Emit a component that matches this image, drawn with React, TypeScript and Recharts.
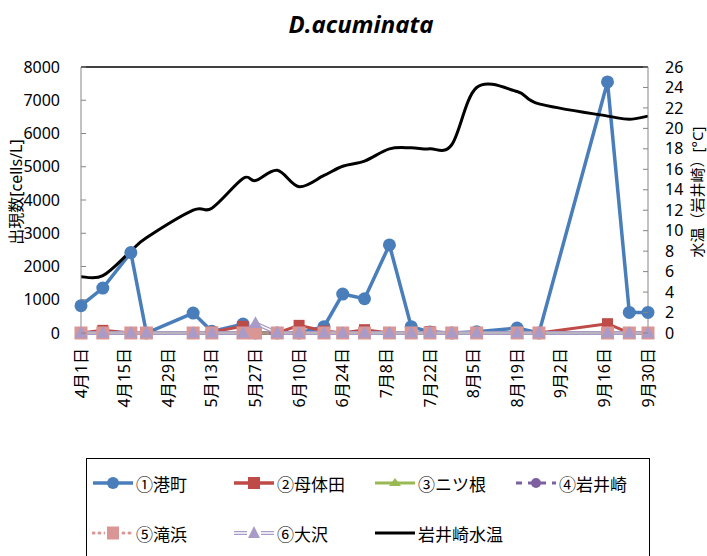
import React from 'react';
import { LineChart, Line, XAxis, YAxis, ReferenceLine } from 'recharts';

// sampling dates (month/day)
const dates = [
  '4/1', '4/8', '4/17', '4/22', '5/7', '5/13', '5/23', '5/27', '6/3', '6/10', '6/18', '6/24',
  '7/1', '7/9', '7/16', '7/22', '7/29', '8/6', '8/19', '8/26', '9/17', '9/24', '9/30'
];

// cells/L
const minato = [820, 1350, 2420, 0, 600, 50, 270, 0, 0, 0, 190, 1170, 1030, 2650, 190, 30, 0, 40, 150, 0, 7550, 620, 620];
const botaida = [0, 80, 0, 0, 0, 30, 200, 0, 0, 230, 60, 0, 100, 0, 0, 40, 0, 0, 0, 0, 280, 0, 0];
const futatsune = [0, 0, 0, 0, 0, 0, 0, 0, 0, 0, 0, 0, 0, 0, 0, 0, 0, 0, 0, 0, 0, 0, 0];
const iwaisaki = [0, 0, 0, 0, 0, 0, 0, 0, 0, 0, 0, 0, 0, 0, 0, 0, 0, 0, 0, 0, 0, 0, 0];
const takihama = [0, 0, 0, 0, 0, 0, 0, 0, 0, 0, 0, 0, 0, 0, 0, 0, 0, 0, 0, 0, 0, 0, 0];
const osawa = [0, 0, 0, 0, 0, 0, 0, 290, 0, 0, 0, 0, 0, 0, 0, 0, 0, 0, 0, 0, 0, 0, 0];

// water temperature at Iwaisaki [°C]
const temp = [5.5, 5.6, 8.0, 9.3, 12.0, 12.2, 15.1, 14.9, 15.9, 14.3, 15.4, 16.3, 16.8, 18.0, 18.1, 18.0, 18.4, 24.0, 23.6, 22.4, 21.2, 20.9, 21.2];

const dateTicks = ['4/1', '4/15', '4/29', '5/13', '5/27', '6/10', '6/24', '7/8', '7/22', '8/5', '8/19', '9/2', '9/16', '9/30'];
const leftTicks = [0, 1000, 2000, 3000, 4000, 5000, 6000, 7000, 8000];
const rightTicks = [0, 2, 4, 6, 8, 10, 12, 14, 16, 18, 20, 22, 24, 26];

const monthStart: Record<number, number> = { 4: 0, 5: 30, 6: 61, 7: 91, 8: 122, 9: 153 };
const toDay = (d: string) => {
  const [m, dd] = d.split('/').map(Number);
  return monthStart[m] + dd - 1;
};
const dayLabel = (day: number) => {
  const dt = new Date(2021, 3, 1 + day);
  return `${dt.getMonth() + 1}月${dt.getDate()}日`;
};

const data = dates.map((d, i) => ({
  day: toDay(d),
  minato: minato[i],
  botaida: botaida[i],
  futatsune: futatsune[i],
  iwaisaki: iwaisaki[i],
  takihama: takihama[i],
  osawa: osawa[i],
  temp: temp[i],
}));

const FONT = "'Noto Sans', 'Noto Sans CJK JP', sans-serif";
const AXIS = '#868686';

const C1 = '#4A7EBB';
const C2 = '#BE4B48';
const C3 = '#98B954';
const C4 = '#7D60A0';
const C5 = '#D99694';
const C6 = '#A99BC8';

// Excel-like smoothed line (Catmull-Rom as cubic Bezier)
const excelCurve = (context: any) => {
  let pts: number[][] = [];
  return {
    areaStart() {},
    areaEnd() {},
    lineStart() {
      pts = [];
    },
    point(x: number, y: number) {
      pts.push([+x, +y]);
    },
    lineEnd() {
      if (!pts.length) return;
      context.moveTo(pts[0][0], pts[0][1]);
      for (let i = 0; i < pts.length - 1; i++) {
        const p0 = pts[i - 1] || pts[i];
        const p1 = pts[i];
        const p2 = pts[i + 1];
        const p3 = pts[i + 2] || p2;
        context.bezierCurveTo(
          p1[0] + (p2[0] - p0[0]) / 6, p1[1] + (p2[1] - p0[1]) / 6,
          p2[0] - (p3[0] - p1[0]) / 6, p2[1] - (p3[1] - p1[1]) / 6,
          p2[0], p2[1]
        );
      }
    },
  };
};

const square = (size: number, fill: string) => (props: any) => {
  const { cx, cy, index } = props;
  if (cx == null || cy == null) return <g key={index} />;
  return <rect key={index} x={cx - size / 2} y={cy - size / 2} width={size} height={size} fill={fill} />;
};

const triangle = (size: number, fill: string) => (props: any) => {
  const { cx, cy, index } = props;
  if (cx == null || cy == null) return <g key={index} />;
  const h = size * 0.9;
  return (
    <path
      key={index}
      d={`M${cx},${cy - h * 0.6} L${cx + size / 2},${cy + h * 0.4} L${cx - size / 2},${cy + h * 0.4} Z`}
      fill={fill}
    />
  );
};

const LeftTick = (props: any) => {
  const { x, y, payload } = props;
  return (
    <g>
      <line x1={x} x2={x + 5} y1={y} y2={y} stroke={AXIS} />
      <text x={x - 21} y={y} dy="0.35em" textAnchor="end" fontSize={16} fontFamily={FONT} fill="#000">
        {payload.value}
      </text>
    </g>
  );
};

const RightTick = (props: any) => {
  const { x, y, payload } = props;
  return (
    <g>
      <line x1={x - 5} x2={x} y1={y} y2={y} stroke={AXIS} />
      <text x={x + 17} y={y} dy="0.35em" textAnchor="start" fontSize={16} fontFamily={FONT} fill="#000">
        {payload.value}
      </text>
    </g>
  );
};

const DateTick = (props: any) => {
  const { x, y, payload } = props;
  return (
    <text
      transform={`translate(${x},${y + 15}) rotate(-90)`}
      textAnchor="end"
      dy="0.35em"
      fontSize={16}
      fontFamily={FONT}
      fill="#000"
    >
      {dayLabel(payload.value)}
    </text>
  );
};

type LegendItem = { name: string; color: string; dash?: string; width: number; marker?: string; double?: boolean };

const legendItems: LegendItem[] = [
  { name: '①港町', color: C1, width: 3.5, marker: 'circle' },
  { name: '②母体田', color: C2, width: 3.5, marker: 'square' },
  { name: '③ニツ根', color: C3, width: 3, marker: 'triangle' },
  { name: '④岩井崎', color: C4, width: 3, marker: 'circle-small', dash: '6 6' },
  { name: '⑤滝浜', color: C5, width: 3, marker: 'square-big', dash: '1 5' },
  { name: '⑥大沢', color: C6, width: 4, marker: 'triangle-big', double: true },
  { name: '岩井崎水温', color: '#000', width: 3 },
];

const LegendIcon = ({ item }: { item: LegendItem }) => (
  <svg width={42} height={16} style={{ display: 'block' }}>
    <line x1={1} x2={41} y1={8} y2={8} stroke={item.color} strokeWidth={item.width}
      strokeDasharray={item.dash} strokeLinecap={item.dash === '1 5' ? 'round' : 'butt'} />
    {item.double && <line x1={1} x2={41} y1={8} y2={8} stroke="#fff" strokeWidth={1.5} />}
    {item.marker === 'circle' && <circle cx={21} cy={8} r={6} fill={item.color} />}
    {item.marker === 'circle-small' && <circle cx={21} cy={8} r={5} fill={item.color} />}
    {item.marker === 'square' && <rect x={15} y={2} width={12} height={12} fill={item.color} />}
    {item.marker === 'square-big' && (
      <>
        <rect x={13} y={0} width={16} height={16} fill="#fff" />
        <rect x={15} y={1.5} width={12} height={13} fill={item.color} />
      </>
    )}
    {item.marker === 'triangle' && <path d="M21,3 L27,11 L15,11 Z" fill={item.color} />}
    {item.marker === 'triangle-big' && (
      <>
        <rect x={14} y={0} width={14} height={16} fill="#fff" />
        <path d="M21,1 L27,13 L15,13 Z" fill={item.color} />
      </>
    )}
  </svg>
);

const legendCols = [92, 233, 374, 515];
const legendRows = [483, 533];

export default function App() {
  return (
    <div style={{ position: 'absolute', left: 0, top: 0, width: 707, height: 556, overflow: 'hidden', background: '#fff' }}>
      <div
        style={{
          position: 'absolute', top: 12, left: 0, width: 722, textAlign: 'center',
          fontFamily: "'Open Sans', sans-serif", fontWeight: 700, fontStyle: 'italic', fontSize: 24, lineHeight: '24px',
        }}
      >
        D.acuminata
      </div>

      <LineChart width={707} height={556} data={data} margin={{ top: 67, right: 0, bottom: 0, left: 0 }}>
        <XAxis
          dataKey="day"
          type="number"
          domain={[0, 182]}
          ticks={dateTicks.map(toDay)}
          interval={0}
          height={223}
          tickLine={false}
          tickSize={0}
          tickMargin={0}
          axisLine={{ stroke: AXIS }}
          tick={<DateTick />}
        />
        <YAxis
          yAxisId="left"
          domain={[0, 8000]}
          ticks={leftTicks}
          interval={0}
          width={81}
          tickLine={false}
          tickSize={0}
          tickMargin={0}
          axisLine={{ stroke: AXIS }}
          tick={<LeftTick />}
          label={{
            content: () => (
              <text transform="translate(16.5,192) rotate(-90)" textAnchor="middle" dy="0.35em"
                fontSize={16} fontFamily={FONT} fill="#000">
                出現数[cells/L]
              </text>
            ),
          }}
        />
        <YAxis
          yAxisId="right"
          orientation="right"
          domain={[0, 26]}
          ticks={rightTicks}
          interval={0}
          width={59}
          tickLine={false}
          tickSize={0}
          tickMargin={0}
          axisLine={{ stroke: AXIS }}
          tick={<RightTick />}
          label={{
            content: () => (
              <text transform="translate(698,192) rotate(-90)" textAnchor="middle" dy="0.35em"
                fontSize={15} fontFamily={FONT} fill="#000">
                水温（岩井崎）[°C]
              </text>
            ),
          }}
        />
        <ReferenceLine yAxisId="left" y={8000} stroke="#000" strokeWidth={1.5} />

        <Line yAxisId="left" dataKey="minato" type="linear" stroke={C1} strokeWidth={3.5}
          dot={{ r: 6.5, fill: C1, stroke: C1, strokeWidth: 0 }} isAnimationActive={false} />
        <Line yAxisId="left" dataKey="botaida" type="linear" stroke={C2} strokeWidth={3}
          dot={square(11, C2)} isAnimationActive={false} />
        <Line yAxisId="left" dataKey="futatsune" type="linear" stroke={C3} strokeWidth={2.5}
          dot={triangle(9, C3)} isAnimationActive={false} />
        <Line yAxisId="left" dataKey="iwaisaki" type="linear" stroke={C4} strokeWidth={2.5} strokeDasharray="6 5"
          dot={{ r: 4.5, fill: C4, stroke: C4, strokeWidth: 0 }} isAnimationActive={false} />
        <Line yAxisId="left" dataKey="takihama" type="linear" stroke={C5} strokeWidth={3} strokeDasharray="1 5"
          strokeLinecap="round" dot={square(13, C5)} isAnimationActive={false} />
        <Line yAxisId="left" dataKey="osawa" type="linear" stroke={C6} strokeWidth={4}
          dot={false} legendType="none" isAnimationActive={false} />
        <Line yAxisId="left" dataKey="osawa" type="linear" stroke="#fff" strokeWidth={1.5}
          dot={triangle(13, C6)} legendType="none" isAnimationActive={false} />
        <Line yAxisId="right" dataKey="temp" type={excelCurve as any} stroke="#000" strokeWidth={3}
          dot={false} isAnimationActive={false} />
      </LineChart>

      <div style={{ position: 'absolute', left: 86, top: 458, width: 564, height: 120, border: '1px solid #000', boxSizing: 'border-box' }} />
      {legendItems.map((item, i) => {
        const col = i % 4;
        const row = Math.floor(i / 4);
        return (
          <div
            key={item.name}
            style={{
              position: 'absolute', left: legendCols[col], top: legendRows[row] - 12, height: 24,
              display: 'flex', alignItems: 'center', gap: 2,
              fontFamily: "'Noto Sans CJK JP', sans-serif", fontSize: 17, whiteSpace: 'nowrap',
            }}
          >
            <LegendIcon item={item} />
            <span>{item.name}</span>
          </div>
        );
      })}
    </div>
  );
}
